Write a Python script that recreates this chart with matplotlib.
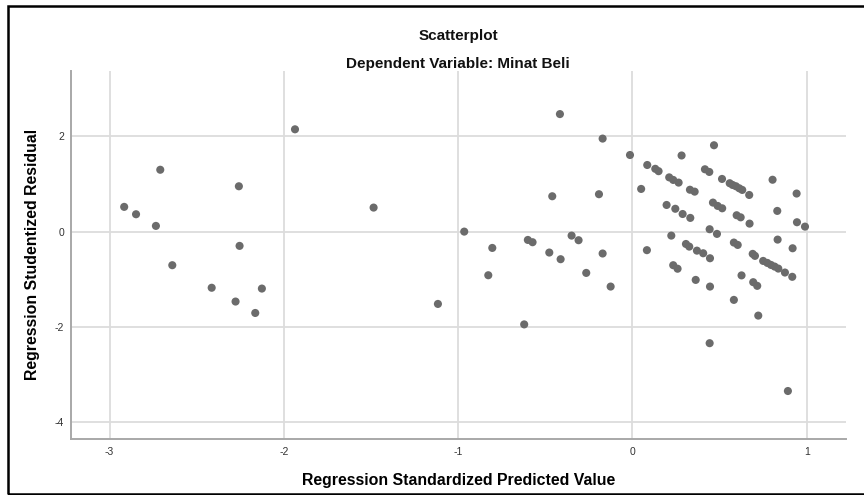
import matplotlib.pyplot as plt
from matplotlib.patches import Rectangle

plt.rcParams["font.family"] = ["Liberation Sans", "DejaVu Sans"]
plt.rcParams["axes.unicode_minus"] = False

# standardized predicted value (x) and studentized residual (y)
pred = [
    -2.916, -2.848, -2.734, -2.709, -2.640, -2.414, -2.277, -2.258, -2.254, -2.164,
    -2.126, -1.936, -1.485, -1.116, -0.965, -0.827, -0.804, -0.621, -0.600, -0.573,
    -0.477, -0.460, -0.416, -0.412, -0.349, -0.309, -0.265, -0.192, -0.171, -0.171,
    -0.125, -0.014, 0.050, 0.083, 0.085, 0.131, 0.150, 0.196, 0.211, 0.223,
    0.234, 0.246, 0.234, 0.259, 0.265, 0.282, 0.288, 0.307, 0.326, 0.332,
    0.330, 0.357, 0.363, 0.370, 0.406, 0.416, 0.441, 0.443, 0.445, 0.445,
    0.443, 0.462, 0.468, 0.485, 0.489, 0.514, 0.515, 0.558, 0.575, 0.582,
    0.582, 0.594, 0.598, 0.604, 0.613, 0.621, 0.626, 0.630, 0.670, 0.672,
    0.690, 0.703, 0.693, 0.716, 0.722, 0.750, 0.774, 0.795, 0.804, 0.816,
    0.831, 0.833, 0.837, 0.875, 0.892, 0.917, 0.919, 0.942, 0.944, 0.990,
]
resid = [
    0.52, 0.365, 0.12, 1.30, -0.706, -1.18, -1.47, 0.953, -0.30, -1.71,
    -1.197, 2.15, 0.505, -1.52, 0.0, -0.917, -0.343, -1.95, -0.175, -0.223,
    -0.44, 0.743, 2.47, -0.58, -0.084, -0.181, -0.868, 0.786, 1.955, -0.46,
    -1.155, 1.61, 0.897, -0.39, 1.40, 1.32, 1.27, 0.56, 1.14, -0.084,
    1.086, 0.48, -0.706, -0.78, 1.03, 1.60, 0.37, -0.26, -0.315, 0.288,
    0.88, 0.84, -1.015, -0.40, -0.455, 1.31, 1.254, 0.05, -0.56, -1.155,
    -2.345, 0.61, 1.815, -0.048, 0.54, 1.107, 0.49, 1.017, 0.98, -0.23,
    -1.435, 0.953, 0.344, -0.28, 0.91, 0.30, -0.92, 0.876, 0.77, 0.168,
    -0.468, -0.51, -1.063, -1.14, -1.765, -0.616, -0.658, -0.70, 1.09, -0.735,
    0.435, -0.168, -0.777, -0.86, -3.35, -0.95, -0.35, 0.80, 0.197, 0.105,
]
x_ticks = [-3, -2, -1, 0, 1]
y_ticks = [-4, -2, 0, 2]

fig = plt.figure(figsize=(8.64, 4.95), dpi=100)
ax = fig.add_axes([0.0816, 0.113, 0.8975, 0.744])

ax.scatter(pred, resid, s=34, color="#6b6b6b", edgecolors="none", zorder=3)

ax.set_xlim(-3.224, 1.225)
ax.set_ylim(-4.36, 3.38)
ax.set_xticks(x_ticks)
ax.set_yticks(y_ticks)
ax.grid(True, color="#dcdcdc", linewidth=1.3, zorder=0)
ax.set_axisbelow(True)
ax.tick_params(length=0, labelsize=7.5, colors="#333333")
ax.tick_params(axis="x", pad=6)
ax.tick_params(axis="y", pad=4.5)
for side in ("top", "right"):
    ax.spines[side].set_visible(False)
for side in ("left", "bottom"):
    ax.spines[side].set_color("#a8a8a8")
    ax.spines[side].set_linewidth(1.4)

cx = 0.0816 + 0.8975 / 2
cy = 0.113 + 0.744 / 2
fig.text(cx, 1 - 480 / 495, "Regression Standardized Predicted Value", ha="center",
         va="center", fontsize=11.4, fontweight="bold")
fig.text(33 / 864, cy, "Regression Studentized Residual", ha="center", va="center",
         rotation=90, fontsize=11.4, fontweight="bold")

fig.text(cx, 1 - 36 / 495, "Scatterplot", ha="center", va="center", fontsize=11,
         fontweight="bold", color="#111111")
fig.text(cx, 1 - 64 / 495, "Dependent Variable: Minat Beli", ha="center", va="center",
         fontsize=11, fontweight="bold", color="#111111")

# black frame around the chart, right side runs off the picture
fig.patches.append(Rectangle((8 / 864, 1 / 495), 1.0, 1 - 7 / 495, transform=fig.transFigure,
                             fill=False, edgecolor="black", linewidth=1.8))

fig.savefig("out.png", dpi=100)
